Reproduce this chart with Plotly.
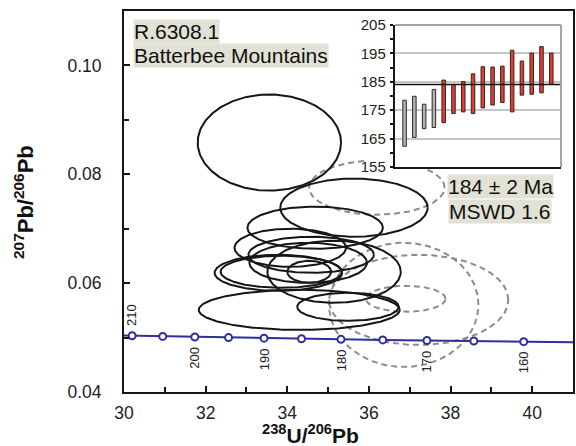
import numpy as np
import plotly.graph_objects as go

FONT = "Liberation Sans, Arial, sans-serif"

# ---- Tera-Wasserburg concordia reference points (age in Ma) ----
conc_age = [215, 210, 205, 200, 195, 190, 185, 180, 175, 170, 165, 160, 155]
conc_u238_pb206 = [29.486, 30.200, 30.949, 31.735, 32.561, 33.431, 34.348,
                   35.316, 36.339, 37.422, 38.571, 39.792, 41.092]
conc_pb207_pb206 = [0.050433, 0.050325, 0.050217, 0.050108, 0.050000, 0.049893,
                    0.049786, 0.049679, 0.049573, 0.049466, 0.049361, 0.049255,
                    0.049150]
marker_ages = [210, 205, 200, 195, 190, 185, 180, 175, 170, 165, 160]
label_ages_above = [210]
label_ages_below = [200, 190, 180, 170, 160]

# ---- analyses used in the mean (solid error ellipses) ----
used_x = [33.561, 35.634, 34.683, 34.073, 34.585, 34.512, 35.146, 33.780,
          33.854, 34.537, 34.293, 35.488]
used_y = [0.08583, 0.07387, 0.07019, 0.06650, 0.06522, 0.06374, 0.06209,
          0.06190, 0.06209, 0.06209, 0.05509, 0.05565]
used_sx = [1.756, 1.805, 1.659, 1.366, 1.537, 1.439, 1.634, 1.561, 1.488,
           0.537, 2.463, 1.244]
used_sy = [0.00883, 0.00534, 0.00387, 0.00350, 0.00331, 0.00368, 0.00571,
           0.00331, 0.00295, 0.00202, 0.00368, 0.00258]

# ---- rejected analyses (dashed error ellipses) ----
rej_x = [36.195, 36.854, 37.220, 36.902]
rej_y = [0.07755, 0.05601, 0.05693, 0.05712]
rej_sx = [1.659, 1.829, 2.195, 0.976]
rej_sy = [0.00497, 0.01141, 0.00828, 0.00239]

# ---- 206Pb/238U age error bars for the inset (Ma) ----
bar_lo = [162.3, 165.4, 168.5, 168.9, 170.6, 173.8, 174.4, 173.8, 175.8,
          176.8, 177.7, 174.4, 180.3, 180.6, 181.1, 184.1]
bar_hi = [178.5, 179.9, 177.1, 182.3, 185.6, 184.1, 185.1, 187.8, 190.3,
          190.2, 190.5, 196.1, 192.3, 195.1, 197.4, 195.1]
bar_used = [False] * 4 + [True] * 12
mean_age = 184
inset_ticks = [155, 165, 175, 185, 195, 205]

# main axis ranges and inset placement (paper fractions)
X_RANGE = [30, 41]
Y_RANGE = [0.04, 0.11]
INSET_X = [0.6031, 0.9734]
INSET_Y = [0.5906, 0.9633]

fig = go.Figure()

t = np.linspace(0, 2 * np.pi, 240)


def ellipse(cx, cy, sx, sy):
    return cx + sx * np.cos(t), cy + sy * np.sin(t)


# region hidden behind the inset (its frame and tick labels)
hide_x0 = X_RANGE[0] + (INSET_X[0] - 0.065) * (X_RANGE[1] - X_RANGE[0])
hide_y0 = Y_RANGE[0] + (INSET_Y[0] - 0.002) * (Y_RANGE[1] - Y_RANGE[0])

for cx, cy, sx, sy in zip(rej_x, rej_y, rej_sx, rej_sy):
    ex, ey = ellipse(cx, cy, sx, sy)
    ey = np.where((ex > hide_x0) & (ey > hide_y0), np.nan, ey)
    fig.add_trace(go.Scatter(x=ex, y=ey, mode="lines", connectgaps=False,
                             line=dict(color="#8c8c8c", width=2, dash="6px,4px"),
                             hoverinfo="skip", showlegend=False))

for cx, cy, sx, sy in zip(used_x, used_y, used_sx, used_sy):
    ex, ey = ellipse(cx, cy, sx, sy)
    fig.add_trace(go.Scatter(x=ex, y=ey, mode="lines",
                             line=dict(color="#161616", width=2),
                             hoverinfo="skip", showlegend=False))

# concordia curve and age markers
CONC = "#2f2f9c"
fig.add_trace(go.Scatter(x=conc_u238_pb206, y=conc_pb207_pb206, mode="lines",
                         line=dict(color=CONC, width=2),
                         hoverinfo="skip", showlegend=False))
mx = [conc_u238_pb206[conc_age.index(a)] for a in marker_ages]
my = [conc_pb207_pb206[conc_age.index(a)] for a in marker_ages]
fig.add_trace(go.Scatter(x=mx, y=my, mode="markers",
                         marker=dict(symbol="circle", size=7, color="white",
                                     line=dict(color=CONC, width=2)),
                         hoverinfo="skip", showlegend=False))

annotations = []
for a in label_ages_above + label_ages_below:
    i = conc_age.index(a)
    above = a in label_ages_above
    annotations.append(dict(
        x=conc_u238_pb206[i], y=conc_pb207_pb206[i], xref="x", yref="y",
        text=str(a), showarrow=False, textangle=-90,
        yanchor="bottom" if above else "top",
        yshift=8 if above else -8,
        font=dict(family=FONT, size=13, color="#222")))

# inset: age bars with weighted mean
fig.add_trace(go.Bar(
    x=list(range(1, len(bar_lo) + 1)),
    y=[h - l for h, l in zip(bar_hi, bar_lo)], base=bar_lo,
    width=0.36,
    marker=dict(color=["#e8392a" if u else "#b4b4b4" for u in bar_used],
                line=dict(color="#2a2a2a", width=1)),
    xaxis="x2", yaxis="y2", hoverinfo="skip", showlegend=False))
fig.add_trace(go.Scatter(x=[0, 17], y=[mean_age, mean_age], mode="lines",
                         line=dict(color="#111", width=1.5),
                         xaxis="x2", yaxis="y2",
                         hoverinfo="skip", showlegend=False))

# text labels with shaded backgrounds
BOX = "#e2e1d5"


def label(text, px, py):
    return dict(x=(px - 124) / 451, y=(392 - py) / 381, xref="paper", yref="paper",
                xanchor="left", yanchor="top", text=text, showarrow=False,
                bgcolor=BOX, borderpad=0,
                font=dict(family=FONT, size=21, color="#111"))


annotations += [
    label("R.6308.1", 133, 19),
    label("Batterbee Mountains", 133, 43),
    label("184 ± 2 Ma", 448, 174),
    label("MSWD 1.6", 449, 199),
]

# axis titles
annotations.append(dict(
    x=(311 - 124) / 451, y=(392 - 434) / 381, xref="paper", yref="paper",
    xanchor="center", yanchor="middle", showarrow=False,
    text="<b><sup>238</sup>U/<sup>206</sup>Pb</b>",
    font=dict(family=FONT, size=21, color="#111")))
annotations.append(dict(
    x=(23 - 124) / 451, y=0.5, xref="paper", yref="paper",
    xanchor="center", yanchor="middle", showarrow=False, textangle=-90,
    text="<b><sup>207</sup>Pb/<sup>206</sup>Pb</b>",
    font=dict(family=FONT, size=22, color="#111")))

AX = "#161616"
fig.update_layout(
    width=576, height=446,
    margin=dict(l=124, r=1, t=11, b=54),
    paper_bgcolor="white", plot_bgcolor="white",
    font=dict(family=FONT, color="#222"),
    barmode="overlay",
    xaxis=dict(range=X_RANGE, tick0=30, dtick=2, ticks="inside", ticklen=6,
               tickwidth=2, tickcolor=AX, showline=True, linewidth=2,
               linecolor=AX, mirror=True, showgrid=False, zeroline=False,
               minor=dict(dtick=1, tick0=30, ticks="inside", ticklen=5,
                          tickwidth=2, tickcolor=AX),
               ticklabelstandoff=4,
               tickfont=dict(family=FONT, size=17.5, color="#222")),
    yaxis=dict(range=Y_RANGE, tick0=0.04, dtick=0.02, tickformat=".2f",
               ticks="inside", ticklen=6, tickwidth=2, tickcolor=AX,
               showline=True, linewidth=2, linecolor=AX, mirror=True,
               showgrid=False, zeroline=False,
               minor=dict(dtick=0.01, tick0=0.04, ticks="inside", ticklen=5,
                          tickwidth=2, tickcolor=AX),
               ticklabelstandoff=17,
               tickfont=dict(family=FONT, size=17.5, color="#222")),
    xaxis2=dict(domain=INSET_X, anchor="y2", range=[0, 17], showticklabels=False,
                ticks="", showgrid=False, zeroline=False, showline=True,
                linewidth=2, linecolor=AX),
    yaxis2=dict(domain=INSET_Y, anchor="x2", range=[155, 205],
                tickvals=inset_ticks, showgrid=True, gridcolor="#c6c6c6",
                gridwidth=1.5, zeroline=False, showline=True, linewidth=2,
                linecolor=AX, ticks="outside", ticklen=3, tickwidth=1.5,
                tickcolor=AX,
                minor=dict(tickvals=[160, 170, 180, 190, 200], ticks="outside",
                           ticklen=3, tickwidth=1.5, tickcolor=AX),
                ticklabelstandoff=1,
                tickfont=dict(family=FONT, size=15, color="#222")),
    annotations=annotations,
    shapes=[
        dict(type="line", xref="x2 domain", yref="y2 domain", x0=0, x1=1,
             y0=1, y1=1, line=dict(color="#a3a3a3", width=2), layer="above"),
        dict(type="line", xref="x2 domain", yref="y2 domain", x0=1, x1=1,
             y0=0, y1=1, line=dict(color="#a3a3a3", width=2), layer="above"),
    ],
)

fig.write_html("out.html")
